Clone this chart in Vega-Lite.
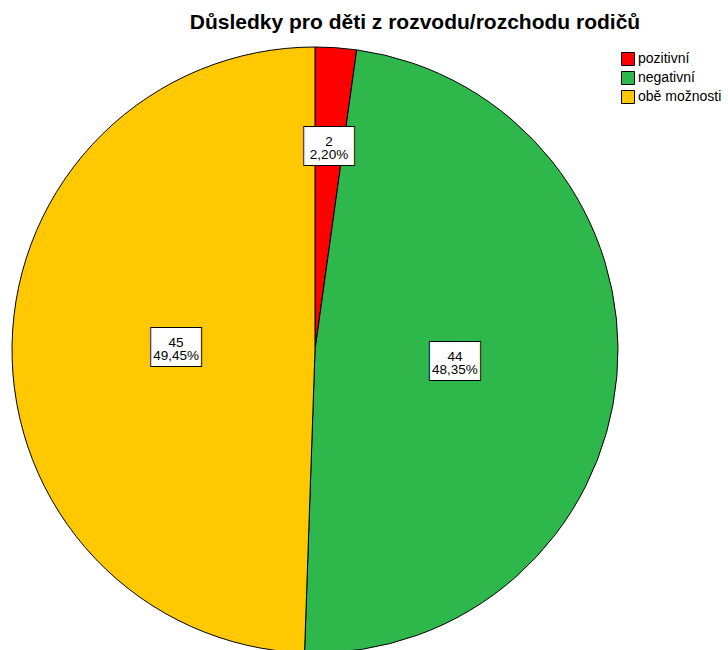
{
  "$schema": "https://vega.github.io/schema/vega-lite/v6.json",
  "width": 630,
  "height": 620,
  "autosize": {"type": "none"},
  "padding": {"left": 0, "top": 40, "right": 98, "bottom": 0},
  "background": "white",
  "title": {
    "text": "Důsledky pro děti z rozvodu/rozchodu rodičů",
    "font": "Liberation Sans",
    "fontSize": 21,
    "fontWeight": "bold",
    "color": "black",
    "anchor": "middle",
    "dx": 100,
    "dy": 20,
    "baseline": "alphabetic",
    "offset": 10
  },
  "data": {
    "values": [
      {"kategorie": "pozitivní", "poradi": 1, "pocet": 2, "procento": 0.022},
      {"kategorie": "negativní", "poradi": 2, "pocet": 44, "procento": 0.4835},
      {"kategorie": "obě možnosti", "poradi": 3, "pocet": 45, "procento": 0.4945}
    ]
  },
  "encoding": {
    "theta": {"field": "pocet", "type": "quantitative", "stack": true},
    "order": {"field": "poradi", "type": "quantitative", "sort": "ascending"}
  },
  "layer": [
    {
      "mark": {"type": "arc", "outerRadius": 303, "stroke": "black", "strokeWidth": 1},
      "encoding": {
        "color": {
          "field": "kategorie",
          "type": "nominal",
          "scale": {
            "domain": ["pozitivní", "negativní", "obě možnosti"],
            "range": ["#ff0000", "#2eb84b", "#ffc800"]
          },
          "legend": {
            "title": null,
            "orient": "none",
            "legendX": 621,
            "legendY": 12,
            "padding": 0,
            "symbolType": "square",
            "symbolSize": 169,
            "symbolStrokeColor": "black",
            "symbolStrokeWidth": 1,
            "symbolOpacity": 1,
            "labelFont": "Liberation Sans",
            "labelFontSize": 14,
            "labelColor": "black",
            "labelOffset": 3,
            "labelLimit": 200,
            "rowPadding": 1
          }
        }
      }
    },
    {
      "mark": {"type": "text", "text": "██", "font": "DejaVu Sans", "fontSize": 32, "fill": "black", "stroke": "black", "strokeWidth": 2, "align": "center", "baseline": "middle"},
      "encoding": {
        "detail": {"field": "kategorie"},
        "radius": {"field": "pocet", "type": "quantitative", "scale": {"type": "linear", "zero": false, "domain": [2, 45], "range": [203, 139]}}
      }
    },
    {
      "mark": {"type": "text", "text": "██", "font": "DejaVu Sans", "fontSize": 32, "fill": "white", "align": "center", "baseline": "middle"},
      "encoding": {
        "detail": {"field": "kategorie"},
        "radius": {"field": "pocet", "type": "quantitative"}
      }
    },
    {
      "mark": {"type": "text", "font": "Liberation Sans", "fontSize": 13.5, "fill": "black", "align": "center", "baseline": "alphabetic", "dy": -1},
      "encoding": {
        "detail": {"field": "kategorie"},
        "radius": {"field": "pocet", "type": "quantitative"},
        "text": {"field": "pocet", "type": "quantitative"}
      }
    },
    {
      "mark": {"type": "text", "font": "Liberation Sans", "fontSize": 13.5, "fill": "black", "align": "center", "baseline": "alphabetic", "dy": 12},
      "encoding": {
        "detail": {"field": "kategorie"},
        "radius": {"field": "pocet", "type": "quantitative"},
        "text": {"field": "procento", "type": "quantitative", "format": ".2%"}
      }
    }
  ],
  "config": {
    "view": {"stroke": null},
    "locale": {"number": {"decimal": ",", "thousands": " ", "grouping": [3], "currency": ["", " Kč"]}}
  }
}
